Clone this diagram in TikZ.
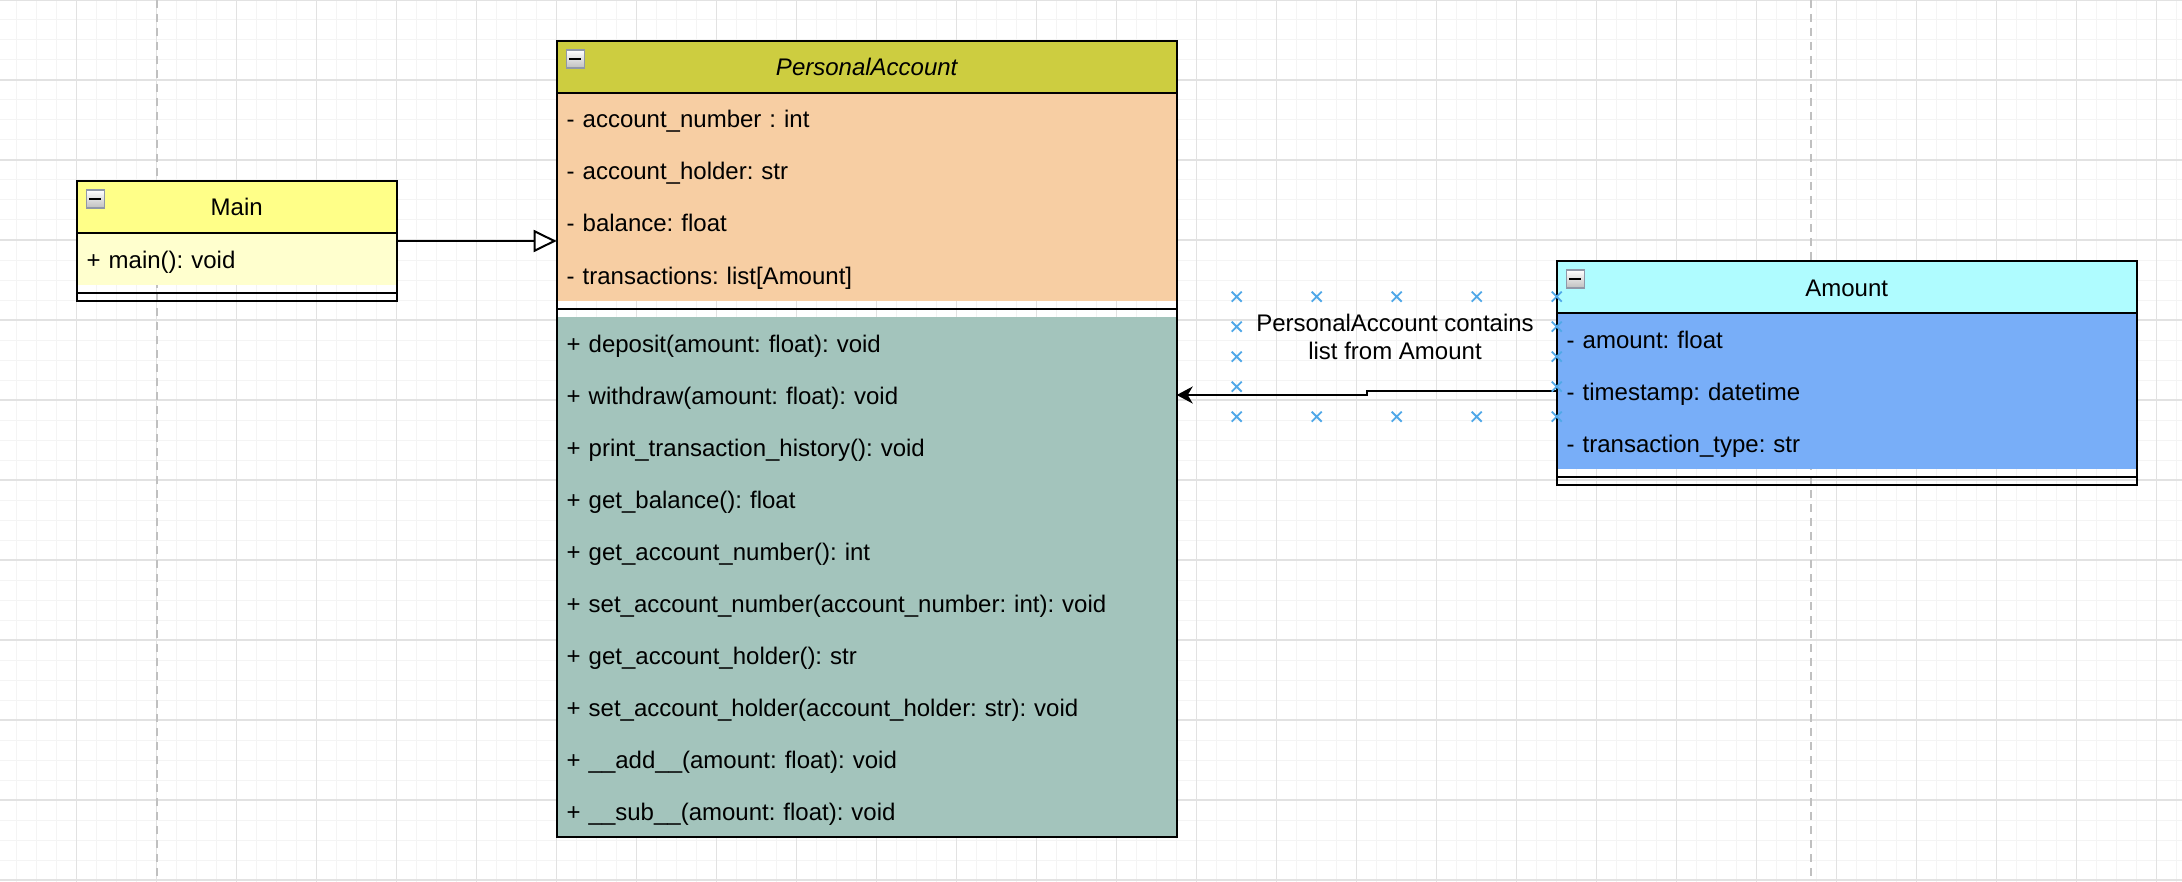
\documentclass[tikz,border=0pt]{standalone}
\usepackage{fontspec}
\setmainfont{Liberation Sans}
\usetikzlibrary{arrows.meta, positioning, fit}

% Icono de colapsar en la esquina de cada cabecera
\newcommand{\iconoColapsar}[1]{%
    \draw[iconoBorde] ([shift={(4.8pt,-4.5pt)}]#1.north west) rectangle ++(9pt,-9pt);
    \fill[black] ([shift={(6.3pt,-8.4pt)}]#1.north west) rectangle ++(6pt,-1.2pt);
}

\begin{document}
\frenchspacing
\begin{tikzpicture}[
    x=1pt, y=-1pt,
    every node/.style={font=\fontsize{12}{14}\selectfont, outer sep=0pt},
    % Cabecera de cada clase
    cabecera/.style={
        minimum width=#1, minimum height=26pt, inner sep=0pt,
        text height=9pt, text depth=0pt, anchor=north west
    },
    % Filas de atributos y metodos (ancho, ancho del texto)
    fila/.style 2 args={
        minimum width=#1, text width=#2, minimum height=26pt,
        inner xsep=5pt, inner ysep=0pt, align=left,
        text height=9pt, text depth=0pt
    },
    % Hueco entre atributos y metodos
    separador/.style={
        minimum width=#1, minimum height=8pt, inner sep=0pt
    },
    marco/.style={draw, line width=1pt, inner sep=0pt},
    lineaCab/.style={line width=0.6pt},
    lineaSep/.style={line width=1pt},
    iconoBorde/.style={
        draw=grisIcono, line width=0.8pt, top color=white, bottom color=black!25
    },
    % Flecha de herencia (triangulo hueco)
    flechaHerencia/.style={
        line width=1pt, -{Triangle[open, length=11.5pt, width=11pt, fill=white]}
    },
    % Flecha de asociacion (punta rellena)
    flechaAsociacion/.style={
        line width=1pt, -{Stealth[length=8pt, width=8.5pt, inset=2.5pt]}
    },
    etiqueta/.style={align=center, inner sep=0pt},
    marca/.style={azulMarca, line width=0.9pt},
    gridMenor/.style={grisMenor, line width=0.5pt},
    gridMayor/.style={grisMayor, line width=0.8pt},
    lineaPagina/.style={grisPagina, line width=1pt, dash pattern=on 4pt off 3pt}
]
    % --- PARAMETROS ---
    \def\anchoMain{160}
    \def\anchoPA{310}
    \def\anchoAm{290}
    \pgfmathsetmacro{\textoMain}{\anchoMain-10}
    \pgfmathsetmacro{\textoPA}{\anchoPA-10}
    \pgfmathsetmacro{\textoAm}{\anchoAm-10}

    % --- COLORES ---
    \definecolor{mainCab}{RGB}{255,255,136}
    \definecolor{mainFila}{RGB}{255,255,206}
    \definecolor{paCab}{RGB}{205,205,64}
    \definecolor{paAtr}{RGB}{247,206,163}
    \definecolor{paMet}{RGB}{163,196,188}
    \definecolor{amCab}{RGB}{175,252,255}
    \definecolor{amAtr}{RGB}{120,174,248}
    \definecolor{grisIcono}{RGB}{144,152,168}
    \definecolor{azulMarca}{RGB}{80,168,232}
    \definecolor{grisMenor}{RGB}{244,244,244}
    \definecolor{grisMayor}{RGB}{226,226,226}
    \definecolor{grisPagina}{RGB}{192,192,192}

    % 0. Fondo y cuadricula
    \useasboundingbox (0,0) rectangle (1091,441);
    \fill[white] (0,0) rectangle (1091,441);
    \foreach \gx in {8.33,18.33,...,1091} \draw[gridMenor] (\gx,0) -- (\gx,441);
    \foreach \gy in {0,10,...,440} \draw[gridMenor] (0,\gy) -- (1091,\gy);
    \foreach \gx in {38.33,78.33,...,1091} \draw[gridMayor] (\gx,0) -- (\gx,441);
    \foreach \gy in {0,40,...,440} \draw[gridMayor] (0,\gy) -- (1091,\gy);
    \draw[lineaPagina] (78.33,0) -- (78.33,441);
    \draw[lineaPagina] (905.33,0) -- (905.33,441);

    % 1. Clase Main
    \node[cabecera=\anchoMain pt, fill=mainCab] (mainTit) at (38.35,90.5) {Main};
    \node[fila={\anchoMain pt}{\textoMain pt}, fill=mainFila, below=0pt of mainTit] (mainOp) {+ main(): void};
    \node[separador=\anchoMain pt, below=0pt of mainOp] (mainSep) {};
    \draw[lineaCab] (mainTit.south west) -- (mainTit.south east);
    \draw[lineaSep] (mainSep.west) -- (mainSep.east);
    \node[marco, fit=(mainTit)(mainSep)] (main) {};
    \iconoColapsar{mainTit}

    % 2. Clase PersonalAccount
    \node[cabecera=\anchoPA pt, fill=paCab, font=\fontsize{12}{14}\selectfont\itshape] (paTit) at (278.35,20.5) {PersonalAccount};
    \node[fila={\anchoPA pt}{\textoPA pt}, fill=paAtr, below=0pt of paTit] (paNum) {- account\_number : int};
    \node[fila={\anchoPA pt}{\textoPA pt}, fill=paAtr, below=0pt of paNum] (paHolder) {- account\_holder: str};
    \node[fila={\anchoPA pt}{\textoPA pt}, fill=paAtr, below=0pt of paHolder] (paBal) {- balance: float};
    \node[fila={\anchoPA pt}{\textoPA pt}, fill=paAtr, below=0pt of paBal] (paTrans) {- transactions: list[Amount]};
    \node[separador=\anchoPA pt, below=0pt of paTrans] (paSep) {};
    \node[fila={\anchoPA pt}{\textoPA pt}, fill=paMet, below=0pt of paSep] (paDep) {+ deposit(amount: float): void};
    \node[fila={\anchoPA pt}{\textoPA pt}, fill=paMet, below=0pt of paDep] (paWith) {+ withdraw(amount: float): void};
    \node[fila={\anchoPA pt}{\textoPA pt}, fill=paMet, below=0pt of paWith] (paHist) {+ print\_transaction\_history(): void};
    \node[fila={\anchoPA pt}{\textoPA pt}, fill=paMet, below=0pt of paHist] (paGetBal) {+ get\_balance(): float};
    \node[fila={\anchoPA pt}{\textoPA pt}, fill=paMet, below=0pt of paGetBal] (paGetNum) {+ get\_account\_number(): int};
    \node[fila={\anchoPA pt}{\textoPA pt}, fill=paMet, below=0pt of paGetNum] (paSetNum) {+ set\_account\_number(account\_number: int): void};
    \node[fila={\anchoPA pt}{\textoPA pt}, fill=paMet, below=0pt of paSetNum] (paGetHol) {+ get\_account\_holder(): str};
    \node[fila={\anchoPA pt}{\textoPA pt}, fill=paMet, below=0pt of paGetHol] (paSetHol) {+ set\_account\_holder(account\_holder: str): void};
    \node[fila={\anchoPA pt}{\textoPA pt}, fill=paMet, below=0pt of paSetHol] (paAdd) {+ \_\_add\_\_(amount: float): void};
    \node[fila={\anchoPA pt}{\textoPA pt}, fill=paMet, below=0pt of paAdd] (paSub) {+ \_\_sub\_\_(amount: float): void};
    \draw[lineaCab] (paTit.south west) -- (paTit.south east);
    \draw[lineaSep] (paSep.west) -- (paSep.east);
    \node[marco, fit=(paTit)(paSub)] (pa) {};
    \iconoColapsar{paTit}

    % 3. Clase Amount
    \node[cabecera=\anchoAm pt, fill=amCab] (amTit) at (778.35,130.5) {Amount};
    \node[fila={\anchoAm pt}{\textoAm pt}, fill=amAtr, below=0pt of amTit] (amVal) {- amount: float};
    \node[fila={\anchoAm pt}{\textoAm pt}, fill=amAtr, below=0pt of amVal] (amTime) {- timestamp: datetime};
    \node[fila={\anchoAm pt}{\textoAm pt}, fill=amAtr, below=0pt of amTime] (amTipo) {- transaction\_type: str};
    \node[separador=\anchoAm pt, below=0pt of amTipo] (amSep) {};
    \draw[lineaCab] (amTit.south west) -- (amTit.south east);
    \draw[lineaSep] (amSep.west) -- (amSep.east);
    \node[marco, fit=(amTit)(amSep)] (am) {};
    \iconoColapsar{amTit}

    % 4. Conectores
    \draw[flechaHerencia] (main.east) -- (main.east -| pa.west);
    \coordinate (paso) at (683.3,0);
    \draw[flechaAsociacion] (amTime.west) -- (amTime.west -| paso) |- (paWith.east);
    \node[etiqueta] (rotulo) at (697.5,168.7) {PersonalAccount contains\\list from Amount};

    % 5. Marcas de conexion (azules)
    \foreach \px in {618.35,658.35,698.35,738.35,778.35}
        \foreach \py in {148.35,208.35}
            \draw[marca] (\px-2.5,\py-2.5) -- (\px+2.5,\py+2.5) (\px-2.5,\py+2.5) -- (\px+2.5,\py-2.5);
    \foreach \px in {618.35,778.35}
        \foreach \py in {163.35,178.35,193.35}
            \draw[marca] (\px-2.5,\py-2.5) -- (\px+2.5,\py+2.5) (\px-2.5,\py+2.5) -- (\px+2.5,\py-2.5);

\end{tikzpicture}
\end{document}
